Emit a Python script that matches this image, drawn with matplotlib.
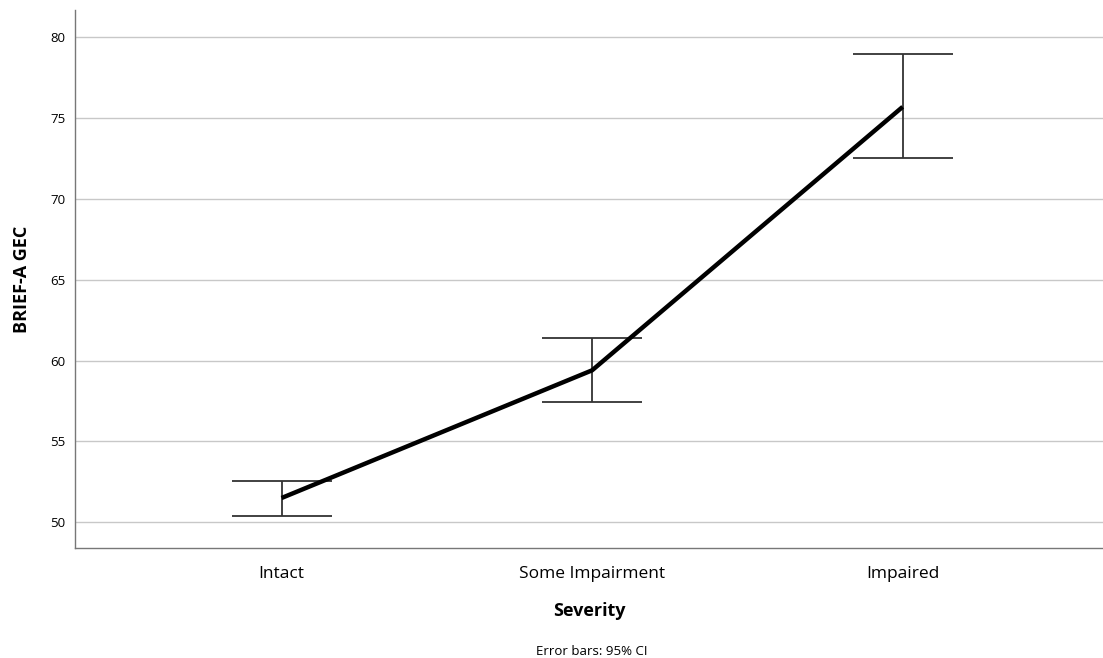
import numpy as np
import matplotlib.pyplot as plt

# data
categories = ["Intact", "Some Impairment", "Impaired"]
means = [51.5, 59.4, 75.7]
ci_low = [50.4, 57.45, 72.55]
ci_high = [52.55, 61.4, 78.95]
y_ticks = [50, 55, 60, 65, 70, 75, 80]

plt.rcParams['font.family'] = ['Open Sans', 'DejaVu Sans']

fig = plt.figure(figsize=(11.03, 6.58), dpi=100)
ax = fig.add_axes([0.068, 0.167, 0.932, 0.818])

x = np.arange(len(categories))
means = np.array(means)
yerr = [means - np.array(ci_low), np.array(ci_high) - means]

ax.errorbar(x, means, yerr=yerr, fmt='none', ecolor='#333333',
            elinewidth=1.3, capsize=36, capthick=1.3, zorder=3)
ax.plot(x, means, color='black', linewidth=3.2, zorder=4,
        solid_capstyle='butt')

ax.set_xlim(-0.665, 2.645)
ax.set_ylim(48.4, 81.7)
ax.set_yticks(y_ticks)
ax.set_xticks(x)
ax.set_xticklabels(categories, fontsize=12.5)
ax.tick_params(axis='y', labelsize=9.5, length=0, pad=7)
ax.tick_params(axis='x', length=0, pad=13)

ax.grid(axis='y', color='#c8c8c8', linewidth=1)
ax.set_axisbelow(True)
for s in ['top', 'right']:
    ax.spines[s].set_visible(False)
for s in ['left', 'bottom']:
    ax.spines[s].set_color('#777777')
    ax.spines[s].set_linewidth(1)

ax.set_ylabel("BRIEF-A GEC", fontsize=13, fontweight='bold', labelpad=14)
ax.set_xlabel("Severity", fontsize=13, fontweight='bold', labelpad=14)
fig.text(0.5367, 0.0, "Error bars: 95% CI", fontsize=9.5, ha='center', va='bottom')

fig.savefig("out.png", dpi=100)
